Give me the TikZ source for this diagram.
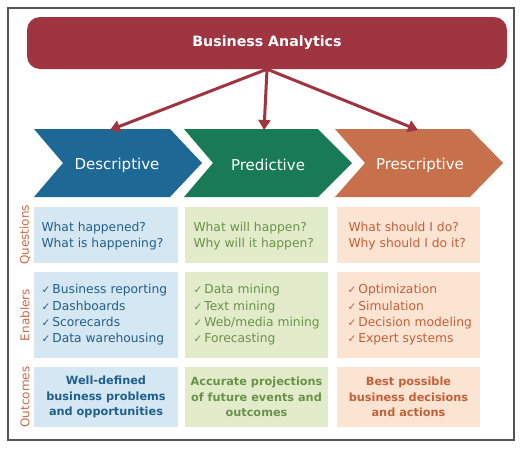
\documentclass[tikz,border=0pt]{standalone}
\usepackage{fontspec}
\setmainfont{DejaVu Sans}
\usetikzlibrary{arrows.meta}
\definecolor{bacol}{HTML}{9E3541}
\definecolor{desc}{HTML}{1D6895}
\definecolor{pred}{HTML}{187A57}
\definecolor{pres}{HTML}{C6714B}
\definecolor{descl}{HTML}{D5E7F2}
\definecolor{predl}{HTML}{E2ECCB}
\definecolor{presl}{HTML}{FBE5D2}
\definecolor{desct}{HTML}{1F5F8B}
\definecolor{predt}{HTML}{6A9148}
\definecolor{prest}{HTML}{C2603A}
\definecolor{labcol}{HTML}{C76B47}
\definecolor{framecol}{HTML}{555555}
\newcommand\ck{{\fontsize{10.5}{12}\selectfont ✓}\,}
\begin{document}
\begin{tikzpicture}[x=1pt,y=-1pt,
  framebox/.style={draw=framecol,line width=1.2pt},
  banner/.style={fill=bacol,rounded corners=13pt,minimum width=480pt,minimum height=52pt,
    text=white,font=\bfseries\fontsize{14.2}{16}\selectfont},
  conn/.style={draw=bacol,line width=3pt,-{Triangle[length=10pt,width=12pt]}},
  chevtext/.style={text=white,font=\fontsize{15}{17}\selectfont},
  qtext/.style={align=left,font=\fontsize{12.3}{16.3}\selectfont,anchor=west},
  otext/.style={align=center,font=\bfseries\fontsize{11.3}{15.5}\selectfont},
  rowlab/.style={rotate=90,text=labcol,font=\fontsize{12}{14}\selectfont}
]
\useasboundingbox (0,0) rectangle (523,448);
\fill[white] (0,0) rectangle (523,448);
\draw[framebox] (8,8) rectangle (514,440);

\node[banner] (ba) at (267,43) {Business Analytics};

% chevrons
\fill[desc] (34,129) -- (170,129) -- (202,163) -- (170,197) -- (34,197) -- (63,163) -- cycle;
\fill[pred] (184,129) -- (318,129) -- (352,163) -- (318,197) -- (184,197) -- (213,163) -- cycle;
\fill[pres] (335,129) -- (470,129) -- (503,163) -- (470,197) -- (335,197) -- (365,163) -- cycle;
\node[chevtext] (d) at (117,165) {Descriptive};
\node[chevtext] (p) at (268,165) {Predictive};
\node[chevtext] (s) at (420,165) {Prescriptive};
\coordinate (dtop) at (110,130);
\coordinate (ptop) at (264,130);
\coordinate (stop) at (418,130);
\draw[conn] (ba.south) -- (dtop);
\draw[conn] (ba.south) -- (ptop);
\draw[conn] (ba.south) -- (stop);

% row labels
\node[rowlab] (lq) at (25,235) {Questions};
\node[rowlab] (le) at (25,315) {Enablers};
\node[rowlab] (lo) at (25,397) {Outcomes};

% cells
\fill[descl] (34,207) rectangle (178,263);
\fill[predl] (185,207) rectangle (328,263);
\fill[presl] (337,207) rectangle (480,263);
\fill[descl] (34,272) rectangle (178,358);
\fill[predl] (185,272) rectangle (328,358);
\fill[presl] (337,272) rectangle (480,358);
\fill[descl] (34,367) rectangle (178,427);
\fill[predl] (185,367) rectangle (328,427);
\fill[presl] (337,367) rectangle (480,427);

\node[qtext,text=desct] (dq) at (38,236) {What happened?\\What is happening?};
\node[qtext,text=predt] (pq) at (190,236) {What will happen?\\Why will it happen?};
\node[qtext,text=prest] (sq) at (345,236) {What should I do?\\Why should I do it?};

\node[qtext,text=desct] (de) at (38,315) {\ck Business reporting\\\ck Dashboards\\\ck Scorecards\\\ck Data warehousing};
\node[qtext,text=predt] (pe) at (190,315) {\ck Data mining\\\ck Text mining\\\ck Web/media mining\\\ck Forecasting};
\node[qtext,text=prest] (se) at (344,315) {\ck Optimization\\\ck Simulation\\\ck Decision modeling\\\ck Expert systems};

\node[otext,text=desct] (do) at (106,397) {Well-defined\\business problems\\and opportunities};
\node[otext,text=predt] (po) at (256.5,397) {Accurate projections\\of future events and\\outcomes};
\node[otext,text=prest] (so) at (408.5,397) {Best possible\\business decisions\\and actions};
\end{tikzpicture}
\end{document}
